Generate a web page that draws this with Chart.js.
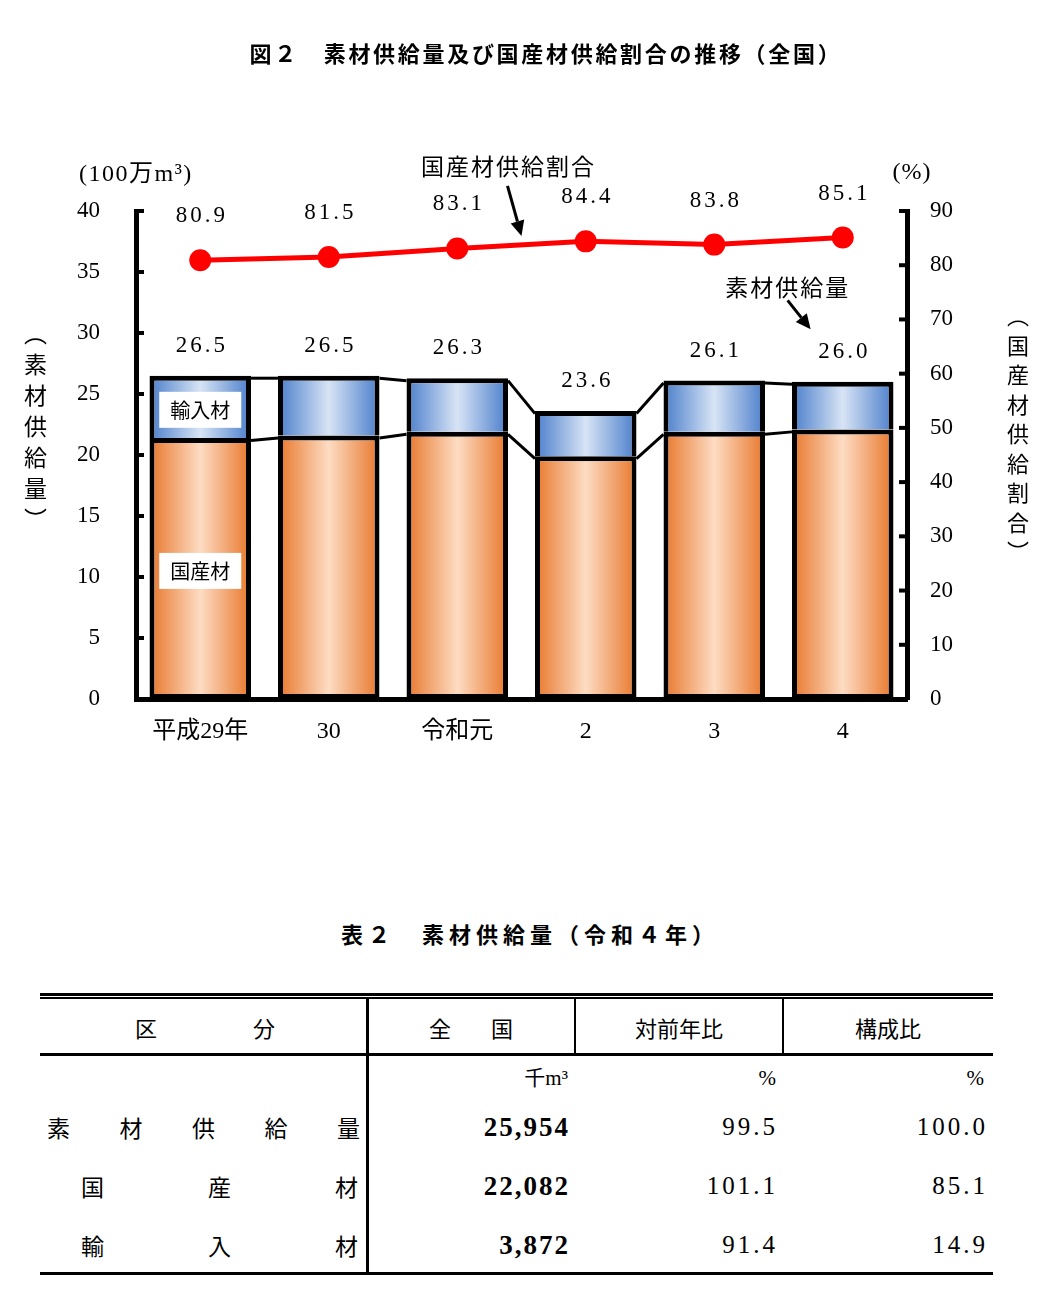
<!DOCTYPE html>
<html lang="ja">
<head>
<meta charset="utf-8">
<title>素材供給量及び国産材供給割合の推移</title>
<script src="https://cdn.jsdelivr.net/npm/chart.js@4.4.1/dist/chart.umd.min.js"></script>
<style>
  html, body { margin: 0; padding: 0; background: #fff; }
  #page { position: relative; width: 1048px; height: 1303px; overflow: hidden; color: #000;
          font-family: "Noto Sans CJK JP", sans-serif; }
  #chart { position: absolute; left: 0; top: 0; }
  .t { position: absolute; white-space: nowrap; height: 40px; line-height: 40px; }
  .rule { position: absolute; background: #000; }
  .vtitle { position: absolute; writing-mode: vertical-rl; line-height: 1; white-space: nowrap; }
</style>
</head>
<body>
<div id="page">
  <canvas id="chart" width="1048" height="770"></canvas>
</div>
<script>
// 図２ 素材供給量（100万m3）と国産材供給割合（%）
const years = ['平成29年', '30', '令和元', '2', '3', '4'];
const domestic = [21.4, 21.6, 21.9, 19.9, 21.9, 22.1];   // 国産材
const imported = [5.1, 4.9, 4.4, 3.7, 4.2, 3.9];         // 輸入材
const supplyTotal = ['26.5', '26.5', '26.3', '23.6', '26.1', '26.0'];
const domesticShare = [80.9, 81.5, 83.1, 84.4, 83.8, 85.1];

// 表２ 素材供給量（令和４年）
const tableHead = ['区分', '全国', '対前年比', '構成比'];
const tableUnits = ['千m³', '%', '%'];
const tableItems = ['素材供給量', '国産材', '輸入材'];
const tableVolume = ['25,954', '22,082', '3,872'];
const tableYoY = ['99.5', '101.1', '91.4'];
const tableShare = ['100.0', '85.1', '14.9'];

const SERIF = '"Liberation Serif", "Noto Sans CJK JP", serif';
const GOTHIC = '"Noto Sans CJK JP", sans-serif';
const BAR_PCT = 0.79;

const page = document.getElementById('page');

function text(str, x, cy, align, style) {
  const d = document.createElement('div');
  d.className = 't';
  d.textContent = str;
  d.style.top = (cy - 20) + 'px';
  if (align === 'center') {
    d.style.left = (x - 400) + 'px'; d.style.width = '800px'; d.style.textAlign = 'center';
  } else if (align === 'right') {
    d.style.left = (x - 800) + 'px'; d.style.width = '800px'; d.style.textAlign = 'right';
  } else {
    d.style.left = x + 'px';
  }
  Object.assign(d.style, style || {});
  page.appendChild(d);
  return d;
}

function spread(str, x0, x1, cy, style) {
  const d = text('', x0, cy, 'left', style);
  d.style.width = (x1 - x0) + 'px';
  d.style.display = 'flex';
  d.style.justifyContent = 'space-between';
  for (const ch of str) {
    const s = document.createElement('span');
    s.textContent = ch;
    d.appendChild(s);
  }
}

function rule(l, t, w, h) {
  const d = document.createElement('div');
  d.className = 'rule';
  Object.assign(d.style, { left: l + 'px', top: t + 'px', width: w + 'px', height: h + 'px' });
  page.appendChild(d);
}

function vtitle(str, cx, top, size, spacing) {
  const d = document.createElement('div');
  d.className = 'vtitle';
  d.textContent = str;
  Object.assign(d.style, { left: (cx - size / 2) + 'px', top: top + 'px', fontSize: size + 'px', letterSpacing: spacing + 'px' });
  page.appendChild(d);
}

// ---- 図のテキスト ----
text('図２　素材供給量及び国産材供給割合の推移（全国）', 546, 52, 'center',
  { fontSize: '22px', fontWeight: '700', letterSpacing: '2.7px' });
text('(100万m³)', 79, 173, 'left', { fontFamily: SERIF, fontSize: '24px', letterSpacing: '1.5px' });
text('(%)', 912, 171, 'center', { fontFamily: SERIF, fontSize: '24px', letterSpacing: '1px' });
vtitle('（素材供給量）', 35, 322, 23, 8);
vtitle('（国産材供給割合）', 1018, 305, 22, 7.5);

// ---- グラフ ----
function barFill(edge, mid) {
  return (c) => {
    const xs = c.chart.scales.x;
    if (c.type !== 'data' || !xs) return edge;
    const cx = xs.getPixelForValue(c.dataIndex);
    const w = xs.width / years.length * BAR_PCT;
    if (!isFinite(cx) || !isFinite(w) || w <= 0) return edge;
    const g = c.chart.ctx.createLinearGradient(cx - w / 2, 0, cx + w / 2, 0);
    g.addColorStop(0, edge);
    g.addColorStop(0.5, mid);
    g.addColorStop(1, edge);
    return g;
  };
}

function arrow(ctx, x0, y0, x1, y1) {
  const ang = Math.atan2(y1 - y0, x1 - x0);
  const hl = 15, hw = 7;
  const bx = x1 - hl * Math.cos(ang), by = y1 - hl * Math.sin(ang);
  ctx.beginPath();
  ctx.moveTo(x0, y0);
  ctx.lineTo(bx, by);
  ctx.stroke();
  ctx.beginPath();
  ctx.moveTo(x1, y1);
  ctx.lineTo(bx + hw * Math.sin(ang), by - hw * Math.cos(ang));
  ctx.lineTo(bx - hw * Math.sin(ang), by + hw * Math.cos(ang));
  ctx.closePath();
  ctx.fill();
}

const decor = {
  id: 'decor',
  afterDatasetsDraw(chart) {
    const { ctx, chartArea: a, scales: { x, y, y1 } } = chart;
    const dom = chart.getDatasetMeta(0).data;
    const imp = chart.getDatasetMeta(1).data;
    const pts = chart.getDatasetMeta(2).data;
    const seg = (x0, y0, x2, y2) => { ctx.beginPath(); ctx.moveTo(x0, y0); ctx.lineTo(x2, y2); ctx.stroke(); };

    ctx.save();
    ctx.strokeStyle = '#000';
    ctx.fillStyle = '#000';

    // 内向きの目盛り
    ctx.lineWidth = 4;
    y.ticks.forEach(t => { const py = y.getPixelForValue(t.value); seg(a.left, py, a.left + 8, py); });
    y1.ticks.forEach(t => { const py = y1.getPixelForValue(t.value); seg(a.right - 8, py, a.right, py); });

    // 区分線
    ctx.lineWidth = 3;
    for (let i = 0; i < dom.length - 1; i++) {
      [dom, imp].forEach(els => {
        const p = els[i], q = els[i + 1];
        seg(p.x + p.width / 2, p.y + 2.5, q.x - q.width / 2, q.y + 2.5);
      });
    }

    // 白抜きラベル
    ctx.font = '20px ' + GOTHIC;
    ctx.textAlign = 'center';
    ctx.textBaseline = 'middle';
    const boxes = [
      ['輸入材', imp[0].x, (imp[0].y + imp[0].base) / 2 + 3],
      ['国産材', dom[0].x, y.getPixelForValue(10.5)]
    ];
    boxes.forEach(([s, bx, by]) => {
      ctx.fillStyle = '#fff';
      ctx.fillRect(bx - 41, by - 18, 82, 36);
      ctx.fillStyle = '#000';
      ctx.fillText(s, bx, by + 1);
    });

    // データラベル
    ctx.font = '23px ' + SERIF;
    ctx.letterSpacing = '3px';
    imp.forEach((el, i) => ctx.fillText(supplyTotal[i], el.x + 1.5, el.y - 30));
    pts.forEach((el, i) => ctx.fillText(domesticShare[i].toFixed(1), el.x + 1.5, el.y - 44));

    // 注記と矢印
    ctx.font = '23px ' + GOTHIC;
    ctx.letterSpacing = '2px';
    ctx.lineWidth = 3;
    const t1x = x.getPixelForValue(2.5), t1y = y1.getPixelForValue(85.4);
    arrow(ctx, t1x - 14, t1y - 50, t1x, t1y);
    ctx.fillText('国産材供給割合', t1x - 13, t1y - 70);
    const t2x = x.getPixelForValue(4.75), t2y = y.getPixelForValue(30.3);
    arrow(ctx, t2x - 23, t2y - 29, t2x, t2y);
    ctx.fillText('素材供給量', t2x - 23, t2y - 42);
    ctx.restore();
  }
};

const tickFont = { family: SERIF, size: 23 };
const axisBorder = { display: true, color: '#000', width: 5 };

new Chart(document.getElementById('chart'), {
  type: 'bar',
  data: {
    labels: years,
    datasets: [{
      label: '国産材',
      data: domestic,
      yAxisID: 'y',
      backgroundColor: barFill('#E8772B', '#FDDCC3'),
      borderColor: '#000',
      borderWidth: 5,
      borderSkipped: false,
      order: 2
    }, {
      label: '輸入材',
      data: imported,
      yAxisID: 'y',
      backgroundColor: barFill('#4A7ECB', '#D8E4F5'),
      borderColor: '#000',
      borderWidth: { top: 5, left: 5, right: 5, bottom: 0 },
      borderSkipped: false,
      order: 2
    }, {
      type: 'line',
      label: '国産材供給割合',
      data: domesticShare,
      yAxisID: 'y1',
      borderColor: '#FF0000',
      backgroundColor: '#FF0000',
      borderWidth: 5,
      pointRadius: 11,
      pointBorderWidth: 0,
      pointBackgroundColor: '#FF0000',
      tension: 0,
      order: 0
    }]
  },
  options: {
    responsive: false,
    animation: false,
    devicePixelRatio: 1,
    layout: { padding: { top: 211, left: 0, right: 0, bottom: 0 } },
    datasets: { bar: { barPercentage: BAR_PCT, categoryPercentage: 1 } },
    plugins: { legend: { display: false }, tooltip: { enabled: false } },
    scales: {
      x: {
        stacked: true,
        grid: { display: false, drawTicks: false },
        border: axisBorder,
        ticks: { padding: 18, color: '#000', font: { family: SERIF, size: 24 } },
        afterFit(s) { s.height = 71; }
      },
      y: {
        stacked: true,
        min: 0, max: 40,
        grid: { display: false, drawTicks: false },
        border: axisBorder,
        ticks: { stepSize: 5, padding: 36, color: '#000', font: tickFont },
        afterFit(s) { s.width = 136; }
      },
      y1: {
        position: 'right',
        min: 0, max: 90,
        grid: { display: false, drawTicks: false },
        border: axisBorder,
        ticks: { stepSize: 10, padding: 23, color: '#000', font: tickFont },
        afterFit(s) { s.width = 141; }
      }
    }
  },
  plugins: [decor]
});

// ---- 表２ ----
text('表２　素材供給量（令和４年）', 530, 933, 'center',
  { fontSize: '22px', fontWeight: '700', letterSpacing: '5px' });

rule(40, 993, 953, 3);
rule(40, 997, 953, 2);
rule(40, 1053, 953, 3);
rule(40, 1272, 953, 3);
rule(366, 999, 3, 274);
rule(574, 999, 2, 54);
rule(782, 999, 2, 54);

const headStyle = { fontSize: '22px' };
spread(tableHead[0], 135, 275, 1027, headStyle);
spread(tableHead[1], 429, 513, 1027, headStyle);
text(tableHead[2], 679, 1027, 'center', headStyle);
text(tableHead[3], 888, 1027, 'center', headStyle);

const unitStyle = { fontFamily: SERIF, fontSize: '21px' };
text(tableUnits[0], 568, 1078, 'right', unitStyle);
text(tableUnits[1], 776, 1078, 'right', unitStyle);
text(tableUnits[2], 984, 1078, 'right', unitStyle);

const rowY = [1127, 1186, 1245];
const rowSpan = [[47, 360], [81, 358], [81, 358]];
tableItems.forEach((s, i) => {
  spread(s, rowSpan[i][0], rowSpan[i][1], rowY[i], { fontSize: '23px' });
  text(tableVolume[i], 570, rowY[i], 'right',
    { fontFamily: SERIF, fontSize: '27px', fontWeight: '700', letterSpacing: '2px' });
  text(tableYoY[i], 778, rowY[i], 'right', { fontFamily: SERIF, fontSize: '25px', letterSpacing: '3px' });
  text(tableShare[i], 988, rowY[i], 'right', { fontFamily: SERIF, fontSize: '25px', letterSpacing: '3px' });
});
</script>
</body>
</html>
